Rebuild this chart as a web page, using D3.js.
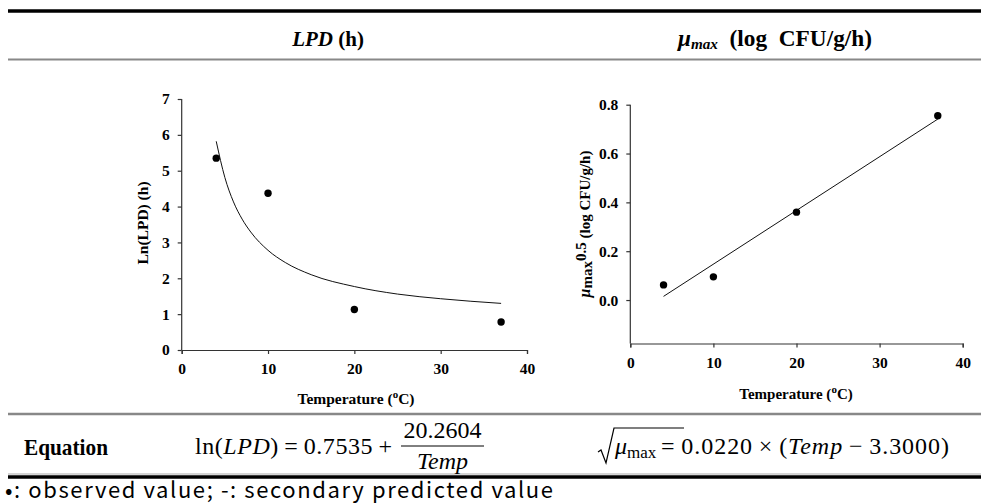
<!DOCTYPE html>
<html><head><meta charset="utf-8">
<script src="https://cdn.jsdelivr.net/npm/d3@7"></script>
<style>body{margin:0;background:#fff}svg{display:block}</style>
</head><body>
<svg id="c" width="981" height="504"></svg>
<script>
// ---- data ----
const lpdTemps = [4, 10, 20, 37];
const lpdObserved = [5.35, 4.37, 1.13, 0.78];
const lpdCurveTemps = [4, 5, 6, 7, 8, 10, 12, 15, 20, 25, 30, 37];
const lpdCurveValues = [5.82, 4.81, 4.13, 3.65, 3.29, 2.78, 2.44, 2.10, 1.77, 1.56, 1.43, 1.30];
const lpdYTicks = [0, 1, 2, 3, 4, 5, 6, 7];
const muTemps = [4, 10, 20, 37];
const muObserved = [0.062, 0.095, 0.36, 0.755];
const muLineTemps = [4, 37];
const muLineValues = [0.015, 0.741];
const muYTicks = [0, 0.2, 0.4, 0.6, 0.8];
const xTicks = [0, 10, 20, 30, 40];

const svg = d3.select('#c');
const serif = 'Liberation Serif';

// ---- table lines ----
function hline(y, w, color, x0) {
  svg.append('line').attr('x1', x0 || 8).attr('x2', 981).attr('y1', y).attr('y2', y)
    .attr('stroke', color).attr('stroke-width', w);
}
hline(11, 3.5, '#000');
hline(59.5, 2, '#888');
hline(414, 2.5, '#888');
hline(474, 1.2, '#aaa');
hline(477, 3.5, '#000');

// ---- headers ----
const h1 = svg.append('text').attr('x', 328).attr('y', 46).attr('text-anchor', 'middle')
  .style('font-family', serif).attr('font-size', 21).attr('font-weight', 'bold');
h1.append('tspan').attr('font-style', 'italic').text('LPD');
h1.append('tspan').text(' (h)');

const h2 = svg.append('text').attr('x', 678).attr('y', 46)
  .style('font-family', serif).attr('font-size', 23).attr('font-weight', 'bold')
  .attr('textLength', 194).attr('lengthAdjust', 'spacingAndGlyphs');
h2.append('tspan').attr('font-style', 'italic').text('\u03bc');
h2.append('tspan').attr('font-style', 'italic').attr('font-size', 15).attr('dy', 3).text('max');
h2.append('tspan').attr('dy', -3).text('\u00a0 (log\u00a0 CFU/g/h)');

// ---- chart helper ----
function axes(g, x, y, yTicks, fmt, xAxisY) {
  const xa = g.append('g').attr('transform', `translate(0,${xAxisY})`)
    .call(d3.axisBottom(x).tickValues(xTicks).tickSize(4).tickPadding(9));
  const ya = g.append('g').attr('transform', `translate(${x(0)},0)`)
    .call(d3.axisLeft(y).tickValues(yTicks).tickSize(4).tickPadding(8).tickFormat(fmt));
  ya.select('.domain').attr('d', `M0,${y.range()[1]}V${xAxisY}`);
  [xa, ya].forEach(a => {
    a.attr('font-family', serif).attr('font-size', 15.5);
    a.selectAll('.domain, line').attr('stroke', '#333').attr('stroke-width', 1.2);
    a.selectAll('text').style('font-family', serif).attr('font-size', 15.5)
      .attr('font-weight', 'bold').attr('fill', '#000');
  });
}

// ---- left chart ----
const xL = d3.scaleLinear().domain([0, 40]).range([181.7, 527]);
const yL = d3.scaleLinear().domain([0, 7]).range([350, 99]);
const gL = svg.append('g');
axes(gL, xL, yL, lpdYTicks, d3.format('d'), 350);
gL.append('path')
  .datum(lpdCurveTemps.map((t, i) => [t, lpdCurveValues[i]]))
  .attr('fill', 'none').attr('stroke', '#111').attr('stroke-width', 1)
  .attr('d', d3.line().x(d => xL(d[0])).y(d => yL(d[1])).curve(d3.curveMonotoneX));
gL.selectAll('circle').data(lpdTemps).join('circle')
  .attr('cx', d => xL(d)).attr('cy', (d, i) => yL(lpdObserved[i])).attr('r', 3.7).attr('fill', '#000');
gL.append('text').attr('transform', 'translate(148,223) rotate(-90)').attr('text-anchor', 'middle')
  .style('font-family', serif).attr('font-size', 15.5).attr('font-weight', 'bold').text('Ln(LPD) (h)');
const tL = gL.append('text').attr('x', 356).attr('y', 404).attr('text-anchor', 'middle')
  .style('font-family', serif).attr('font-size', 15.5).attr('font-weight', 'bold');
tL.append('tspan').text('Temperature (');
tL.append('tspan').attr('dy', -6).attr('font-size', 11).text('o');
tL.append('tspan').attr('dy', 6).text('C)');

// ---- right chart ----
const xR = d3.scaleLinear().domain([0, 40]).range([630.3, 962.7]);
const yR = d3.scaleLinear().domain([-0.178, 0.8]).range([343.5, 104.7]);
const gR = svg.append('g');
axes(gR, xR, yR, muYTicks, d3.format('.1f'), 343.5);
gR.append('path')
  .datum(muLineTemps.map((t, i) => [t, muLineValues[i]]))
  .attr('fill', 'none').attr('stroke', '#111').attr('stroke-width', 1)
  .attr('d', d3.line().x(d => xR(d[0])).y(d => yR(d[1])));
gR.selectAll('circle').data(muTemps).join('circle')
  .attr('cx', d => xR(d)).attr('cy', (d, i) => yR(muObserved[i])).attr('r', 3.7).attr('fill', '#000');
const yRt = gR.append('text').attr('transform', 'translate(590,224) rotate(-90)').attr('text-anchor', 'middle')
  .style('font-family', serif).attr('font-size', 15).attr('font-weight', 'bold');
yRt.append('tspan').attr('font-style', 'italic').attr('font-size', 16).text('\u03bc');
yRt.append('tspan').attr('dy', 2).text('max');
yRt.append('tspan').attr('dy', -6).text('0.5');
yRt.append('tspan').attr('dy', 4).text(' (log CFU/g/h)');
const tR = gR.append('text').attr('x', 796).attr('y', 399).attr('text-anchor', 'middle')
  .style('font-family', serif).attr('font-size', 15).attr('font-weight', 'bold');
tR.append('tspan').text('Temperature (');
tR.append('tspan').attr('dy', -6).attr('font-size', 11).text('o');
tR.append('tspan').attr('dy', 6).text('C)');

// ---- equation row ----
svg.append('text').attr('x', 24).attr('y', 455).style('font-family', serif)
  .attr('font-size', 24).attr('font-weight', 'bold')
  .attr('textLength', 84).attr('lengthAdjust', 'spacingAndGlyphs').text('Equation');

const e1 = svg.append('text').attr('x', 195).attr('y', 454).style('font-family', serif).attr('font-size', 24)
  .attr('textLength', 197).attr('lengthAdjust', 'spacing');
e1.append('tspan').text('ln(');
e1.append('tspan').attr('font-style', 'italic').text('LPD');
e1.append('tspan').text(')\u2009=\u20090.7535\u2009+');
svg.append('text').attr('x', 442.5).attr('y', 438).attr('text-anchor', 'middle')
  .style('font-family', serif).attr('font-size', 24).text('20.2604');
svg.append('line').attr('x1', 401).attr('x2', 484).attr('y1', 446).attr('y2', 446)
  .attr('stroke', '#000').attr('stroke-width', 1);
svg.append('text').attr('x', 442.5).attr('y', 469).attr('text-anchor', 'middle')
  .style('font-family', serif).attr('font-size', 24).attr('font-style', 'italic').text('Temp');

// sqrt
svg.append('path').attr('d', 'M598,452 L601,450 L606,463 L614,428 L684,428')
  .attr('fill', 'none').attr('stroke', '#000').attr('stroke-width', 1.2);
const e2a = svg.append('text').attr('x', 615).attr('y', 454).style('font-family', serif).attr('font-size', 24);
e2a.append('tspan').attr('font-style', 'italic').text('\u03bc');
e2a.append('tspan').attr('font-size', 17).attr('dy', 4).text('max');
const e2 = svg.append('text').attr('x', 661).attr('y', 454).style('font-family', serif).attr('font-size', 24)
  .attr('textLength', 288).attr('lengthAdjust', 'spacing');
e2.append('tspan').text('=\u20090.0220\u2009\u00d7\u2009(');
e2.append('tspan').attr('font-style', 'italic').text('Temp');
e2.append('tspan').text('\u2009\u2212\u20093.3000)');

// ---- footnote ----
svg.append('text').attr('x', 5).attr('y', 498).style('font-family', 'Noto Sans CJK KR')
  .attr('font-size', 22).attr('textLength', 548).attr('lengthAdjust', 'spacing')
  .text('\u2022: observed value; -: secondary predicted value');
</script>
</body></html>
